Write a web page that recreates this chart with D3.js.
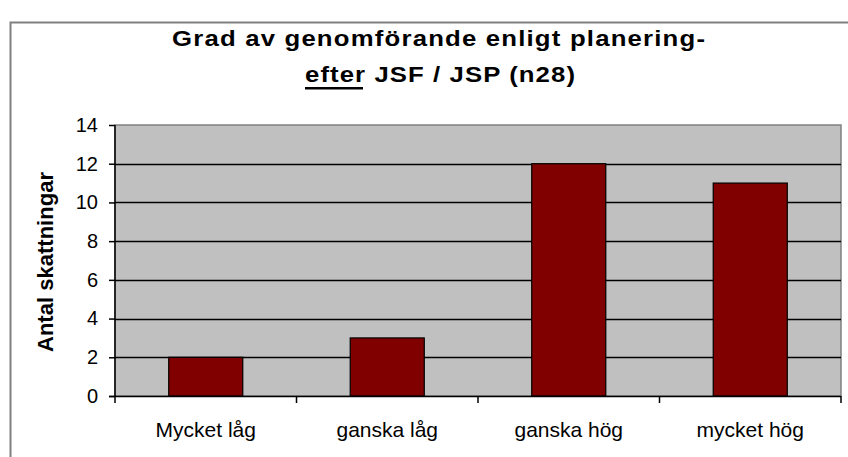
<!DOCTYPE html>
<html><head><meta charset="utf-8">
<script src="https://cdn.jsdelivr.net/npm/d3@7"></script>
<style>body{margin:0;background:#fff}svg{display:block}text{font-family:"Liberation Sans",Arial,sans-serif}</style>
</head><body><svg id="c" width="848" height="457"></svg>
<script>
const categories = ["Mycket låg", "ganska låg", "ganska hög", "mycket hög"];
const values = [2, 3, 12, 11];
const yTicks = [0, 2, 4, 6, 8, 10, 12, 14];
const titleLine1 = "Grad av genomförande enligt planering-";
const titleUnderlined = "efter";
const titleRest = " JSF / JSP (n28)";
const yLabel = "Antal skattningar";

const svg = d3.select("#c");
const m = {left:115, right:841, top:125, bottom:396};

// outer frame
svg.append("rect").attr("x",10.5).attr("y",22.5).attr("width",850).attr("height",450)
  .attr("fill","#fff").attr("stroke","#808080").attr("stroke-width",2);

const x = d3.scaleBand().domain(categories).range([m.left,m.right]).paddingInner(0.592).paddingOuter(0.296);
const y = d3.scaleLinear().domain([0,14]).range([m.bottom,m.top]);

// plot area
svg.append("rect").attr("x",m.left).attr("y",m.top).attr("width",m.right-m.left).attr("height",m.bottom-m.top)
  .attr("fill","#c0c0c0").attr("stroke","#808080").attr("stroke-width",1.5);

// gridlines
svg.append("g").selectAll("line").data(yTicks.filter(d=>d>0 && d<14)).join("line")
  .attr("x1",m.left).attr("x2",m.right).attr("y1",d=>Math.round(y(d))+0.5).attr("y2",d=>Math.round(y(d))+0.5)
  .attr("stroke","#000").attr("stroke-width",1.5);

// bars
svg.append("g").selectAll("rect").data(values).join("rect")
  .attr("x",(d,i)=>x(categories[i])).attr("width",x.bandwidth())
  .attr("y",d=>y(d)).attr("height",d=>y(0)-y(d))
  .attr("fill","#800000").attr("stroke","#000").attr("stroke-width",1.2);

// y axis
const ya = d3.axisLeft(y).tickValues(yTicks).tickSize(6).tickPadding(11).tickFormat(d3.format("d"));
const gy = svg.append("g").attr("transform",`translate(${m.left},0)`).call(ya);
gy.select(".domain").attr("stroke","#000").attr("stroke-width",1.5).attr("d",`M0,${m.top}V${m.bottom}`);
gy.selectAll(".tick line").attr("stroke","#000").attr("stroke-width",1.5);
gy.selectAll(".tick text").attr("font-size",20).attr("fill","#000").style("font-family",'"Liberation Sans",Arial,sans-serif');

// x axis with boundary ticks
const xa = svg.append("g");
xa.append("line").attr("x1",m.left-6).attr("x2",m.right).attr("y1",m.bottom+0.5).attr("y2",m.bottom+0.5)
  .attr("stroke","#000").attr("stroke-width",1.5);
const bounds = d3.range(categories.length+1).map(i=>m.left + i*x.step());
xa.selectAll("line.t").data(bounds).join("line").attr("class","t")
  .attr("x1",d=>d).attr("x2",d=>d).attr("y1",m.bottom).attr("y2",m.bottom+7)
  .attr("stroke","#000").attr("stroke-width",1.5);
xa.selectAll("text").data(categories).join("text")
  .attr("x",d=>x(d)+x.bandwidth()/2).attr("y",437).attr("text-anchor","middle")
  .attr("font-size",21).attr("fill","#000").text(d=>d);

// y label
svg.append("text").attr("transform","translate(53,262) rotate(-90)").attr("text-anchor","middle")
  .attr("font-size",22).attr("font-weight","bold").attr("fill","#000")
  .attr("textLength",180).attr("lengthAdjust","spacingAndGlyphs").text(yLabel);

// title (glyphs widened slightly, remaining width via spacing)
const sx = 1.12;
svg.append("text").attr("transform",`translate(172,46) scale(${sx},1)`)
  .attr("font-size",23).attr("font-weight","bold").attr("fill","#000")
  .attr("textLength",533/sx).attr("lengthAdjust","spacing").text(titleLine1);
const t2 = svg.append("text").attr("transform",`translate(305,82) scale(${sx},1)`)
  .attr("font-size",23).attr("font-weight","bold").attr("fill","#000")
  .attr("textLength",270/sx).attr("lengthAdjust","spacing");
t2.append("tspan").text(titleUnderlined);
t2.append("tspan").text(titleRest);
// underline under "efter"
svg.append("rect").attr("x",305).attr("y",87).attr("width",58).attr("height",2.5).attr("fill","#000");
</script></body></html>
